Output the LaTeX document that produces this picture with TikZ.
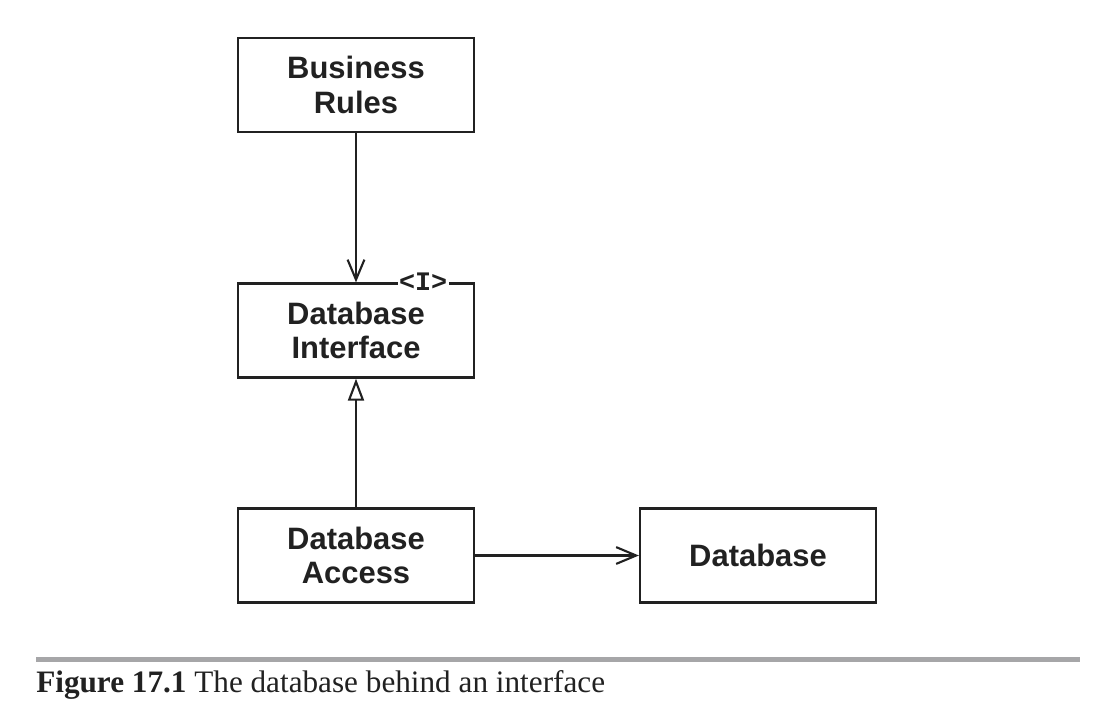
\documentclass[tikz,border=0pt]{standalone}
\usepackage{fontspec}
\setmainfont{Liberation Serif}
\setsansfont{Liberation Sans}
\setmonofont{Liberation Mono}
\usetikzlibrary{calc}
\usetikzlibrary{arrows.meta}
\definecolor{ruleGray}{rgb}{0.65,0.65,0.66}
\definecolor{boxText}{rgb}{0.13,0.13,0.13}
\tikzset{
  compBox/.style={draw=boxText, line width=1.6pt, minimum width=5.9cm, minimum height=2.35cm,
    align=center, text=boxText, font=\sffamily\bfseries\fontsize{22}{24.8}\selectfont},
  usesArrow/.style={draw=boxText, line width=1.6pt, -{Straight Barb[length=0.5cm, width=0.42cm, line width=1.5pt]}},
  implArrow/.style={draw=boxText, line width=1.6pt, -{Triangle[open, length=0.55cm, width=0.4cm, line width=1.5pt]}},
}
\begin{document}
\begin{tikzpicture}

%%%%%%%%%%%%%%%%%%%%%%%%%%%%%%%%%%%%%%%%%%%%%%%%%%%%%%%%%%%%%% Setup
\coordinate (C) at (0, 0);
% just to have nice boundaries to the picture
\useasboundingbox ($(C)+(0,0)$) rectangle ($(C)+(27.8,-17.75)$);

%%%%%%%%%%%%%%%%%%%%%%%%%%%%%%%%%%%%%%%%%%%%%%%%%%%%%%%%%%%%%% Boxes
\node[compBox] (rules) at ($(C)+(8.9,-2.125)$) {Business\\Rules};
\node[compBox] (dbi) at ($(C)+(8.9,-8.2625)$) {Database\\Interface};
\node[compBox] (dba) at ($(C)+(8.9,-13.8875)$) {Database\\Access};
\node[compBox] (db) at ($(C)+(18.95,-13.8875)$) {Database};

% interface marker on the top border
\node[fill=white, inner sep=1pt, text=boxText,
  font=\ttfamily\bfseries\fontsize{19}{20}\selectfont] (imark)
  at ($(dbi.north east)+(-1.3,0.02)$) {<I>};

%%%%%%%%%%%%%%%%%%%%%%%%%%%%%%%%%%%%%%%%%%%%%%%%%%%%%%%%%%%%%% Arrows
\draw[usesArrow] (rules) -- (dbi);
\draw[implArrow] (dba) -- (dbi);
\draw[usesArrow] (dba) -- (db);

%%%%%%%%%%%%%%%%%%%%%%%%%%%%%%%%%%%%%%%%%%%%%%%%%%%%%%%%%%%%%% Caption
\fill[ruleGray] ($(C)+(0.9,-16.425)$) rectangle ($(C)+(27.0,-16.55)$);
\node[anchor=base west, inner sep=0pt, text=boxText, font=\fontsize{22.2}{26}\selectfont] (caption)
  at ($(C)+(0.9,-17.3)$) {\textbf{Figure 17.1} The database behind an interface};

\end{tikzpicture}
\end{document}
